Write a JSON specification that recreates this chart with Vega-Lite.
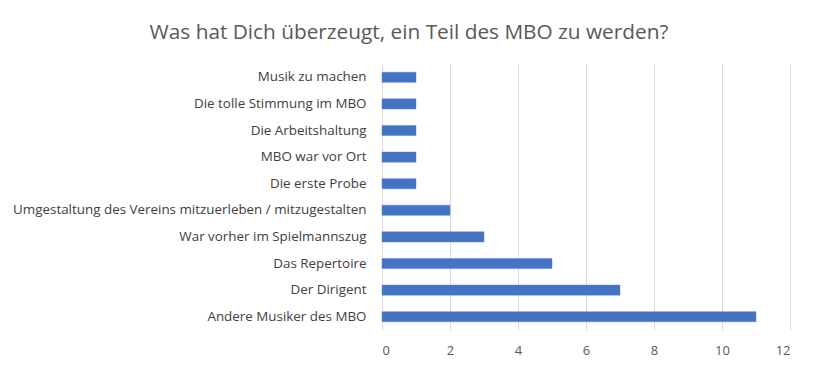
{
  "$schema": "https://vega.github.io/schema/vega-lite/v6.json",
  "autosize": {"type": "none"},
  "width": 408,
  "height": 266,
  "padding": {"left": 382, "top": 64, "right": 26, "bottom": 40},
  "background": "white",
  "title": {
    "text": "Was hat Dich überzeugt, ein Teil des MBO zu werden?",
    "anchor": "middle",
    "dx": -177,
    "offset": 20,
    "font": "Open Sans, sans-serif",
    "fontSize": 20.8,
    "fontWeight": "normal",
    "color": "#595959"
  },
  "data": {
    "values": [
      {"grund": "Musik zu machen", "anzahl": 1},
      {"grund": "Die tolle Stimmung im MBO", "anzahl": 1},
      {"grund": "Die Arbeitshaltung", "anzahl": 1},
      {"grund": "MBO war vor Ort", "anzahl": 1},
      {"grund": "Die erste Probe", "anzahl": 1},
      {"grund": "Umgestaltung des Vereins mitzuerleben / mitzugestalten", "anzahl": 2},
      {"grund": "War vorher im Spielmannszug", "anzahl": 3},
      {"grund": "Das Repertoire", "anzahl": 5},
      {"grund": "Der Dirigent", "anzahl": 7},
      {"grund": "Andere Musiker des MBO", "anzahl": 11}
    ]
  },
  "mark": {"type": "bar", "color": "#4472C4", "stroke": "#5b86d1", "strokeWidth": 0.5},
  "encoding": {
    "y": {
      "field": "grund",
      "type": "nominal",
      "sort": null,
      "scale": {"paddingInner": 0.62, "paddingOuter": 0.31},
      "axis": {
        "title": null,
        "domain": false,
        "ticks": false,
        "labelPadding": 16,
        "labelFont": "Open Sans, sans-serif",
        "labelFontSize": 13.4,
        "labelColor": "#404040",
        "labelLimit": 400
      }
    },
    "x": {
      "field": "anzahl",
      "type": "quantitative",
      "scale": {"domain": [0, 12], "nice": false},
      "axis": {
        "title": null,
        "values": [0, 2, 4, 6, 8, 10, 12],
        "domain": false,
        "ticks": false,
        "grid": true,
        "gridColor": "#d9d9d9",
        "gridWidth": 1,
        "labelPadding": 14,
        "labelFont": "Open Sans, sans-serif",
        "labelFontSize": 13,
        "labelColor": "#595959"
      }
    }
  },
  "config": {"view": {"stroke": null}}
}
